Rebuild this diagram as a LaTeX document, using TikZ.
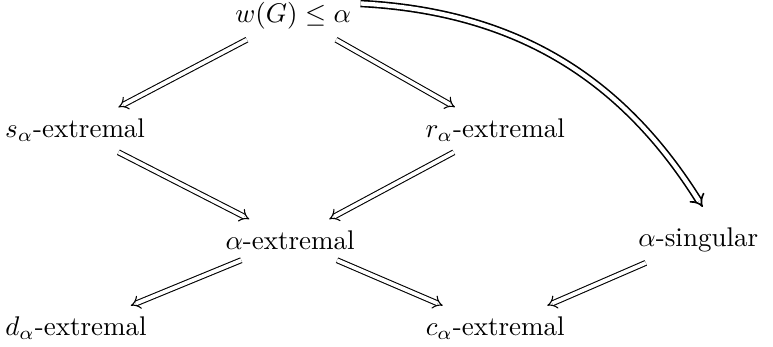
\documentclass[tikz,border=0pt]{standalone}
\usetikzlibrary{arrows.meta}
\begin{document}
\begin{tikzpicture}[>={Implies}, imp/.style={double, double distance=1.4pt, shorten <=1pt, shorten >=1.5pt, ->}]
\useasboundingbox (0,0) rectangle (10.06,-4.505);
\node (w) at (3.815,-0.2) {$w(G)\le\alpha$};
\node (s) at (0.977,-1.693) {$s_\alpha$-extremal};
\node (r) at (6.445,-1.693) {$r_\alpha$-extremal};
\node (a) at (3.776,-3.125) {$\alpha$-extremal};
\node (g) at (9.088,-3.125) {$\alpha$-singular};
\node (d) at (0.990,-4.270) {$d_\alpha$-extremal};
\node (c) at (6.445,-4.270) {$c_\alpha$-extremal};
\draw[imp] (w) -- (s);
\draw[imp] (w) -- (r);
\draw[imp] (s) -- (a);
\draw[imp] (r) -- (a);
\draw[imp] (a) -- (d);
\draw[imp] (a) -- (c);
\draw[imp] (g) -- (c);
\draw[imp, line width=0.6pt, double distance=1.6pt, shorten <=0pt, shorten >=5pt] (w.10) to[out=-3, in=122] (g.62);
\end{tikzpicture}
\end{document}
